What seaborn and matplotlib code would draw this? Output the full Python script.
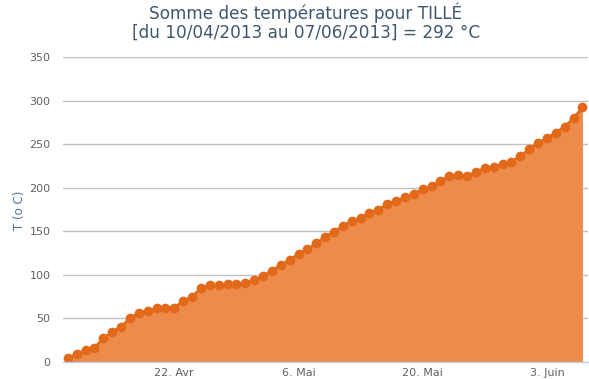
import matplotlib
matplotlib.use('Agg')
import matplotlib.pyplot as plt
import seaborn as sns
import pandas as pd

# Cumulative temperature sum, one value per day from 10/04/2013 to 07/06/2013
start_date = '2013-04-10'
end_date = '2013-06-07'
temp_sum = [4.5, 9, 14, 16.5, 27, 34.5, 40.5, 50, 56.5, 59,
            61.5, 62.5, 62.5, 69.5, 75, 84.5, 88, 88, 89, 89.5,
            90.3, 94, 98.7, 104.8, 111, 117, 124, 129.3, 136, 143.8,
            149.6, 156, 162, 165.6, 171.4, 174.4, 181, 185, 189, 193,
            198.2, 201.5, 208, 213.4, 214.6, 213.4, 218, 222.3, 224.2, 227.2,
            229.9, 236.4, 244, 251.7, 256.7, 263.2, 270, 279.7, 292.3]

tick_dates = ['2013-04-22', '2013-05-06', '2013-05-20', '2013-06-03']
tick_labels = ['22. Avr', '6. Mai', '20. Mai', '3. Juin']
y_ticks = [0, 50, 100, 150, 200, 250, 300, 350]

title_lines = ['Somme des températures pour TILLÉ',
               '[du 10/04/2013 au 07/06/2013] = 292 °C']

dates = pd.date_range(start_date, end_date, freq='D')
df = pd.DataFrame({'date': dates, 'temp': temp_sum})

sns.set_style('white')
plt.rcParams['font.family'] = ['DejaVu Sans']

fig = plt.figure(figsize=(5.89, 3.79), dpi=100)
ax = fig.add_axes([63 / 589, 1 - 362 / 379, 525 / 589, 305 / 379])

line_color = '#e2691a'
fill_color = '#ed8b4a'

ax.fill_between(df['date'], df['temp'], 0, color=fill_color, linewidth=0, zorder=2)
sns.lineplot(data=df, x='date', y='temp', ax=ax, color=line_color, linewidth=2,
             marker='o', markersize=7, markeredgewidth=0, zorder=3)

ax.set_ylim(0, 350)
ax.set_yticks(y_ticks)
ax.set_xlim(dates[0] - pd.Timedelta(hours=13), dates[-1] + pd.Timedelta(hours=15))
ax.set_xticks(pd.to_datetime(tick_dates))
ax.set_xticklabels(tick_labels)

ax.grid(axis='y', color='#c0c0c0', linewidth=1)
ax.set_axisbelow(True)
for side in ['top', 'right', 'left']:
    ax.spines[side].set_visible(False)
ax.spines['bottom'].set_color('#c0d0e0')
ax.spines['bottom'].set_linewidth(1)
ax.spines['bottom'].set_zorder(5)

ax.tick_params(axis='x', length=4, width=1, color='#c0d0e0', labelsize=8,
               labelcolor='#606060', pad=0, direction='out')
ax.tick_params(axis='y', length=0, labelsize=8, labelcolor='#606060', pad=9)
ax.set_xlabel('')
ax.set_ylabel('')

fig.text(20 / 589, 1 - 210 / 379, 'T (o C)', rotation=90, ha='center', va='center',
         fontsize=8.5, color='#4d759e')
fig.text(306 / 589, 1 - 13 / 379, title_lines[0], ha='center', va='center',
         fontsize=12.2, color='#3e576f')
fig.text(306 / 589, 1 - 33 / 379, title_lines[1], ha='center', va='center',
         fontsize=12.2, color='#3e576f')

fig.savefig('out.png', dpi=100)
